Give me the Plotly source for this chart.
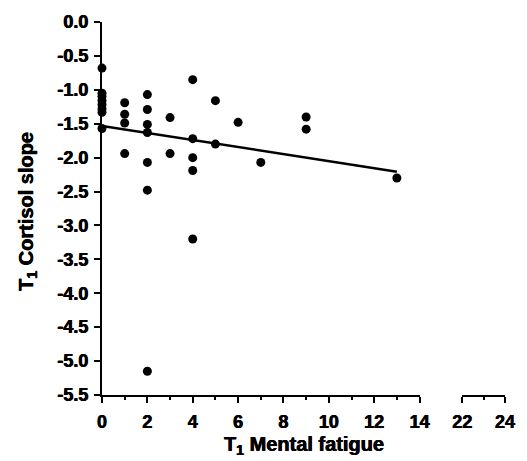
import numpy as np
import plotly.graph_objects as go

# Data
fatigue = [0, 0, 0, 0, 0, 0, 0, 0,
           1, 1, 1, 1,
           2, 2, 2, 2, 2, 2, 2,
           3, 3,
           4, 4, 4, 4, 4,
           5, 5,
           6,
           7,
           9, 9,
           13]
cortisol_slope = [-0.68, -1.05, -1.10, -1.16, -1.22, -1.28, -1.33, -1.57,
                  -1.19, -1.36, -1.49, -1.94,
                  -1.07, -1.29, -1.51, -1.63, -2.07, -2.48, -5.15,
                  -1.41, -1.94,
                  -0.85, -1.72, -2.00, -2.19, -3.20,
                  -1.16, -1.80,
                  -1.48,
                  -2.07,
                  -1.40, -1.58,
                  -2.30]
x_ticks_main = [0, 2, 4, 6, 8, 10, 12, 14]
x_ticks_break = [22, 24]
y_ticks = [0.0, -0.5, -1.0, -1.5, -2.0, -2.5, -3.0, -3.5, -4.0, -4.5, -5.0, -5.5]
y_tick_labels = ["0.0", "-0.5", "-1.0", "-1.5", "-2.0", "-2.5", "-3.0",
                 "-3.5", "-4.0", "-4.5", "-5.0", "-5.5"]

x = np.array(fatigue, dtype=float)
y = np.array(cortisol_slope, dtype=float)
slope, intercept = np.polyfit(x, y, 1)
fit_x = np.array([x.min(), x.max()])
fit_y = intercept + slope * fit_x

FONT = "Liberation Sans"
SHADOW = "0.35px 0 0 black, -0.35px 0 0 black"

fig = go.Figure()
fig.add_trace(go.Scatter(x=x, y=y, mode="markers",
                         marker=dict(color="black", size=9),
                         cliponaxis=False, showlegend=False))
fig.add_trace(go.Scatter(x=fit_x, y=fit_y, mode="lines",
                         line=dict(color="black", width=2.5),
                         cliponaxis=False, showlegend=False))
fig.add_trace(go.Scatter(x=[22], y=[None], xaxis="x2", yaxis="y",
                         mode="markers", showlegend=False, hoverinfo="skip"))

tickfont = dict(family=FONT, size=18, color="black", weight="bold", shadow=SHADOW)
titlefont = dict(family=FONT, size=20, color="black", weight="bold", shadow=SHADOW)

axis_common = dict(showline=True, linecolor="black", linewidth=2,
                   ticks="outside", ticklen=6, tickwidth=2, tickcolor="black",
                   showgrid=False, zeroline=False, tickfont=tickfont)
minor = dict(ticks="outside", ticklen=3, tickwidth=2, dtick=1,
             tickcolor="black", showgrid=False)

fig.update_layout(
    width=527, height=461,
    margin=dict(l=102, r=20, t=15, b=66),
    paper_bgcolor="white", plot_bgcolor="white",
    xaxis=dict(domain=[0, 0.788], range=[0, 14], tickvals=x_ticks_main,
               ticktext=[str(v) for v in x_ticks_main], ticklabelstandoff=3,
               minor=minor, anchor="y", **axis_common),
    xaxis2=dict(domain=[0.894, 1], range=[22, 24], tickvals=x_ticks_break,
                ticktext=[str(v) for v in x_ticks_break], ticklabelstandoff=3,
                minor=minor, anchor="y", **axis_common),
    yaxis=dict(range=[-5.5, 0], tickvals=y_ticks, ticktext=y_tick_labels,
               anchor="x", ticklabelstandoff=2, **axis_common),
    annotations=[
        dict(text="T<sub>1</sub> Mental fatigue", xref="paper", yref="paper",
             x=0.5, y=-0.097, xanchor="center", yanchor="top", showarrow=False,
             font=titlefont),
        dict(text="T<sub>1</sub> Cortisol slope", xref="paper", yref="paper",
             x=-0.185, y=0.492, xanchor="center", yanchor="middle",
             textangle=-90, showarrow=False, font=titlefont),
    ],
)

fig.write_html("out.html")
